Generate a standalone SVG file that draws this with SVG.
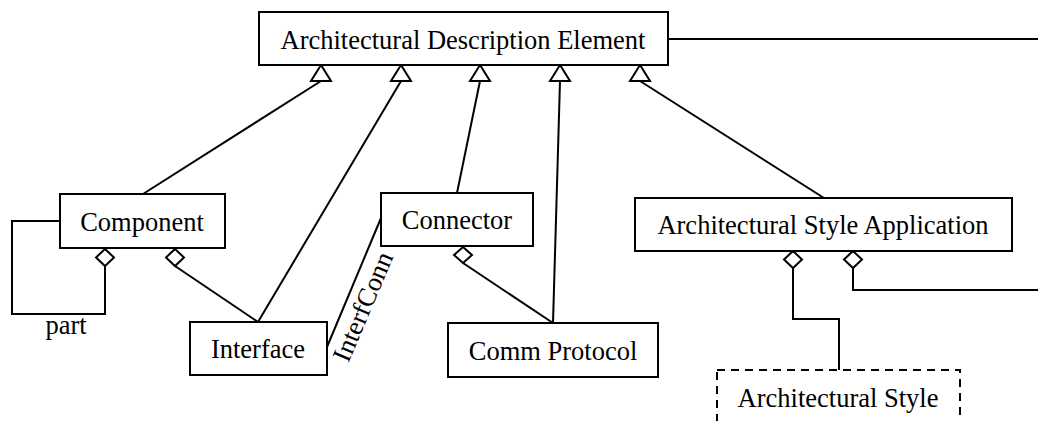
<svg xmlns="http://www.w3.org/2000/svg" width="1038" height="421" viewBox="0 0 1038 421">
<style>
.box{fill:#fff;stroke:#000;stroke-width:2}
.dash{fill:#fff;stroke:#000;stroke-width:2;stroke-dasharray:8,6}
.ln{fill:none;stroke:#000;stroke-width:2}
.tri{fill:#fff;stroke:#000;stroke-width:2}
.dia{fill:#fff;stroke:#000;stroke-width:2}
text{font-family:"Liberation Serif","Times New Roman",serif;font-size:26.5px;fill:#000;text-anchor:middle}
</style>
<rect width="1038" height="421" fill="#fff"/>
<g id="connectors">
<line class="ln" x1="668" y1="39" x2="1038" y2="39"/>
<line class="ln" x1="321" y1="81" x2="143" y2="194"/>
<line class="ln" x1="401" y1="81" x2="258" y2="322"/>
<line class="ln" x1="480" y1="81" x2="457" y2="193"/>
<line class="ln" x1="560" y1="81" x2="553" y2="323"/>
<line class="ln" x1="640" y1="81" x2="824" y2="198"/>
<polygon class="tri" points="321,65 311,81 331,81"/>
<polygon class="tri" points="401,65 391,81 411,81"/>
<polygon class="tri" points="480,65 470,81 490,81"/>
<polygon class="tri" points="560,65 550,81 570,81"/>
<polygon class="tri" points="640,65 630,81 650,81"/>
<polyline class="ln" points="60,221 12,221 12,314 105,314 105,266"/>
<polygon class="dia" points="105,249 114,257.5 105,266 96,257.5"/>
<text x="66" y="334">part</text>
<line class="ln" x1="175" y1="266" x2="258" y2="322"/>
<polygon class="dia" points="175,249 184,257.5 175,266 166,257.5"/>
<line class="ln" x1="381" y1="218" x2="327" y2="347"/>
<text transform="translate(371,310) rotate(-67)">InterfConn</text>
<line class="ln" x1="463" y1="263" x2="553" y2="323"/>
<polygon class="dia" points="463,247 472,255 463,263 454,255"/>
<polyline class="ln" points="793,268 793,319 839,319 839,370"/>
<polygon class="dia" points="793,251 802,259.5 793,268 784,259.5"/>
<polyline class="ln" points="853,268 853,290 1038,290"/>
<polygon class="dia" points="853,251 862,259.5 853,268 844,259.5"/>
</g>
<g id="ade">
<rect class="box" x="259" y="12" width="409" height="53"/>
<text x="463" y="49">Architectural Description Element</text>
</g>
<g id="component">
<rect class="box" x="60" y="194" width="165" height="54"/>
<text x="142" y="231">Component</text>
</g>
<g id="interface">
<rect class="box" x="190" y="322" width="137" height="53"/>
<text x="258" y="358">Interface</text>
</g>
<g id="connector">
<rect class="box" x="381" y="193" width="152" height="53"/>
<text x="457" y="229">Connector</text>
</g>
<g id="commprotocol">
<rect class="box" x="448" y="323" width="210" height="54"/>
<text x="553" y="360">Comm Protocol</text>
</g>
<g id="asa">
<rect class="box" x="635" y="198" width="377" height="53"/>
<text x="823" y="234">Architectural Style Application</text>
</g>
<g id="archstyle">
<rect class="dash" x="717" y="370" width="243" height="70"/>
<text x="838" y="407">Architectural Style</text>
</g>
</svg>
